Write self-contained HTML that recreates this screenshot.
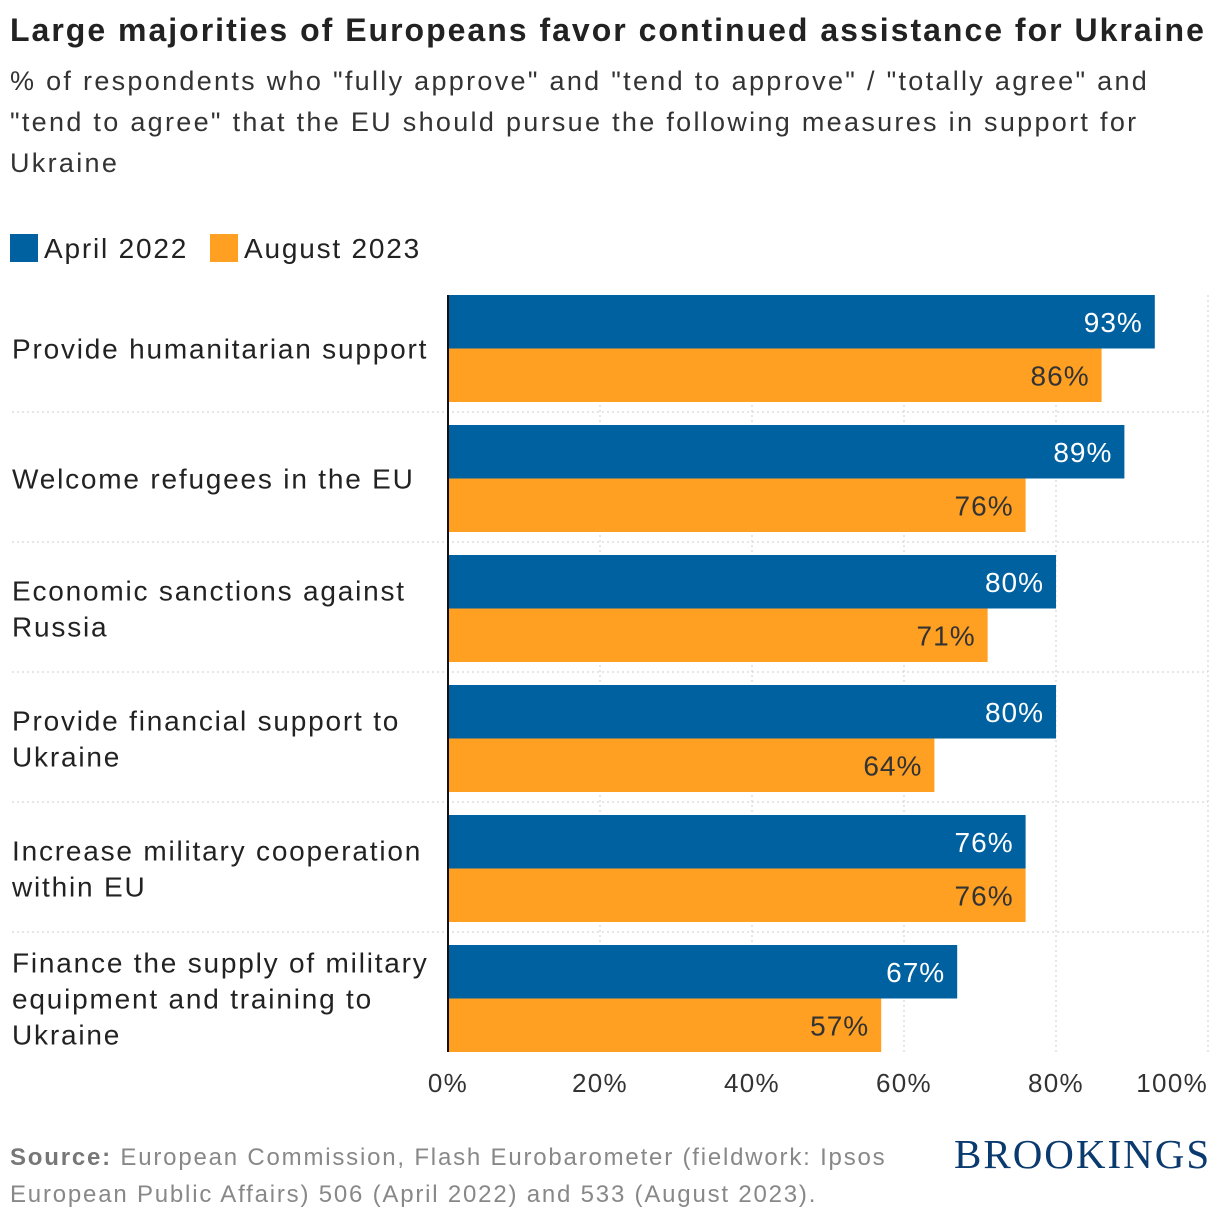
<!DOCTYPE html>
<html><head><meta charset="utf-8"><style>
body{margin:0;width:1220px;height:1222px;background:#fff;font-family:"Liberation Sans",sans-serif;overflow:hidden;position:relative}
.t{position:absolute;white-space:nowrap}
</style></head><body>
<div class="t" style="left:10px;top:12px;font-size:32px;font-weight:bold;color:#222;letter-spacing:2px">Large majorities of Europeans favor continued assistance for Ukraine</div>
<div class="t" style="left:10px;top:61px;font-size:27px;line-height:41px;color:#333;letter-spacing:2.3px">% of respondents who "fully approve" and "tend to approve" / "totally agree" and<br>"tend to agree" that the EU should pursue the following measures in support for<br>Ukraine</div>
<div class="t" style="left:10px;top:233px;font-size:28px;color:#222;letter-spacing:1.8px"><span style="display:inline-block;width:28px;height:28px;background:#0061a1;vertical-align:-4px;margin-right:6px"></span>April 2022</div>
<div class="t" style="left:210px;top:233px;font-size:28px;color:#222;letter-spacing:1.8px"><span style="display:inline-block;width:28px;height:28px;background:#ffa022;vertical-align:-4px;margin-right:6px"></span>August 2023</div>
<svg id="chart" width="1220" height="1222" style="position:absolute;left:0;top:0" font-family="Liberation Sans, sans-serif"></svg>
<div class="t" style="left:10px;top:1139px;font-size:24px;line-height:37px;color:#888;letter-spacing:1.8px"><b style="color:#777">Source:</b> European Commission, Flash Eurobarometer (fieldwork: Ipsos<br>European Public Affairs) 506 (April 2022) and 533 (August 2023).</div>
<div class="t" style="left:954px;top:1130px;font-family:'Liberation Serif',serif;font-size:41px;color:#0a3a6e;letter-spacing:2px">BROOKINGS</div>
<script>
const categories=[["Provide humanitarian support"],["Welcome refugees in the EU"],["Economic sanctions against","Russia"],["Provide financial support to","Ukraine"],["Increase military cooperation","within EU"],["Finance the supply of military","equipment and training to","Ukraine"]];
const april2022=[93,89,80,80,76,67];
const august2023=[86,76,71,64,76,57];
const ticks=[0,20,40,60,80,100];
const svg=document.getElementById('chart');
const NS='http://www.w3.org/2000/svg';
const x0=448,x1=1208,top0=295,grp=130,bh=53.5;
const xs=v=>x0+(x1-x0)*v/100;
function mk(t,a){const e=document.createElementNS(NS,t);for(const k in a)e.setAttribute(k,a[k]);svg.appendChild(e);return e;}
ticks.forEach((v,i)=>{if(v>0){const l=mk('line',{x1:xs(v),x2:xs(v),y1:top0,y2:1052,stroke:'#ccc','stroke-dasharray':'2,3'});

}
const last=i===ticks.length-1;
const t=mk('text',{x:xs(v),y:1092,'font-size':26,fill:'#333','text-anchor':last?'end':'middle','letter-spacing':1.3});t.textContent=v+'%';

});
categories.forEach((c,i)=>{const y=top0+i*grp;
if(i>0){const s=mk('line',{x1:12,x2:1208,y1:y-13,y2:y-13,stroke:'#ccc','stroke-dasharray':'2,3'});

}
const cy=y+bh;const n=c.length;
c.forEach((ln,j)=>{const t=mk('text',{x:12,y:cy+10+(j-(n-1)/2)*36,'font-size':28,fill:'#222','letter-spacing':1.8});t.textContent=ln;

});
[[april2022[i],'#0061a1','#fff',y],[august2023[i],'#ffa022','#333',y+bh]].forEach(([v,col,tc,yy],k)=>{
const r=mk('rect',{x:x0,y:yy,width:xs(v)-x0,height:bh,fill:col});


const t=mk('text',{x:xs(v)-12,y:yy+bh/2+10,'font-size':28,fill:tc,'text-anchor':'end','letter-spacing':1});t.textContent=v+'%';

});
});
const ax=mk('line',{x1:x0,x2:x0,y1:top0,y2:1052,stroke:'#111','stroke-width':2});


</script>
</body></html>
